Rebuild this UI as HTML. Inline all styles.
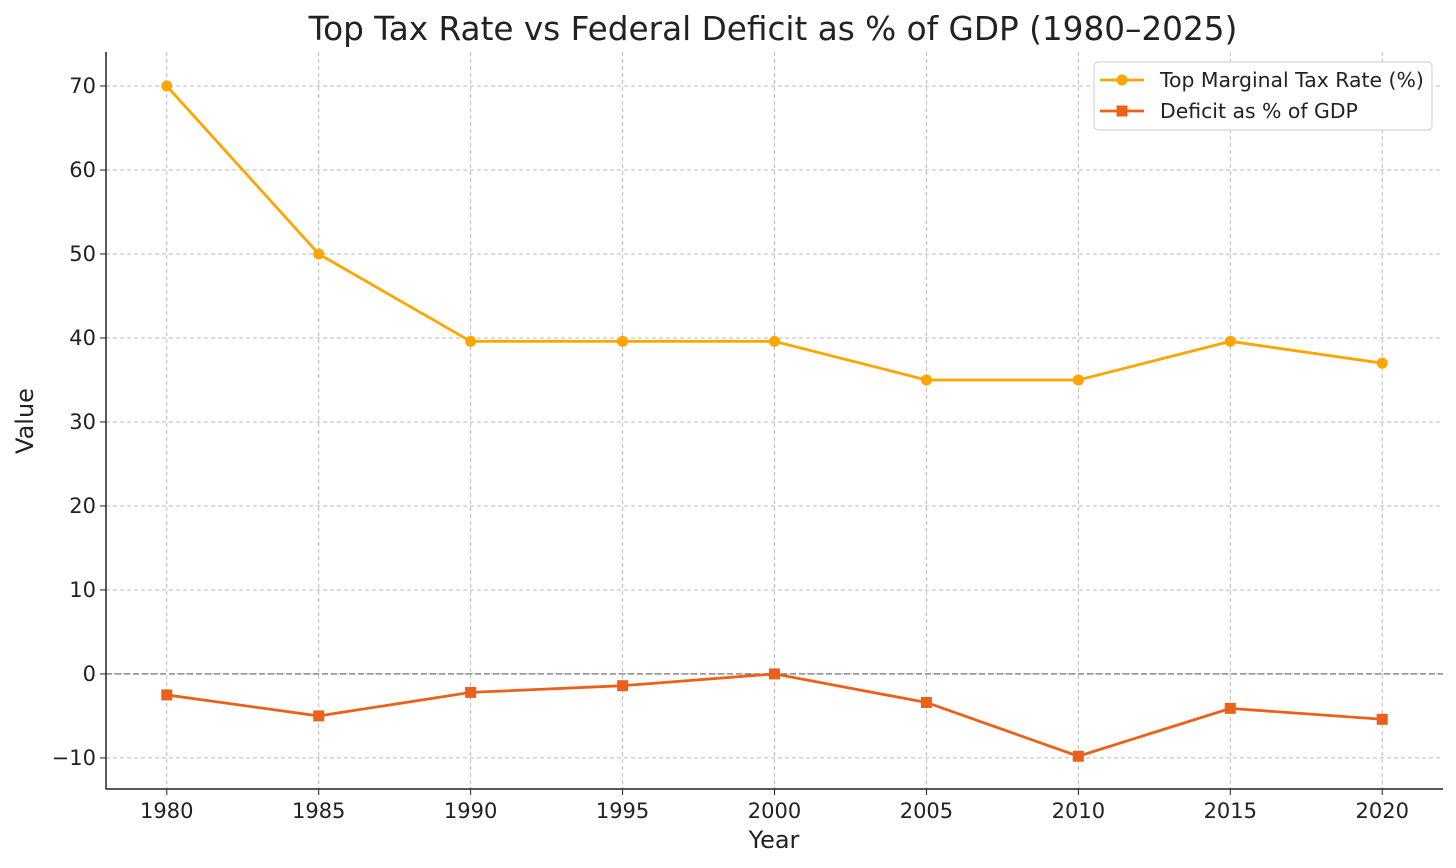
<!DOCTYPE html>
<html><head><meta charset="utf-8"><style>
body{margin:0;background:#fff;}
svg{display:block;font-family:"DejaVu Sans","Liberation Sans",sans-serif;}
</style></head><body>
<svg id="chart" width="1456" height="868">
<text x="773" y="40" text-anchor="middle" font-size="32.7" fill="#222">Top Tax Rate vs Federal Deficit as % of GDP (1980–2025)</text>
<g id="grid"></g>
<g id="axes"></g>
<g id="series"></g>
<text x="774" y="848" text-anchor="middle" font-size="24" fill="#222">Year</text>
<text x="33" y="421" text-anchor="middle" font-size="24" fill="#222" transform="rotate(-90 33 421)">Value</text>
<g>
<rect x="1094" y="62" width="338" height="68" rx="4" fill="#fff" stroke="#ccc"/>
<g>
<line x1="1100" y1="80" x2="1144" y2="80" stroke="#FFA500" stroke-width="2.8"/>
<circle cx="1122" cy="80" r="5.5" fill="#FFA500"/>
<text x="1160" y="87" font-size="20.4" fill="#222">Top Marginal Tax Rate (%)</text></g>
<g>
<line x1="1100" y1="111" x2="1144" y2="111" stroke="#EC6119" stroke-width="2.8"/>
<rect x="1116.5" y="105.5" width="11" height="11" fill="#EC6119"/>
<text x="1160" y="118" font-size="20.4" fill="#222">Deficit as % of GDP</text></g>
</g>
</svg>
<script>
const years=[1980,1985,1990,1995,2000,2005,2010,2015,2020];
const taxRate=[70,50,39.6,39.6,39.6,35,35,39.6,37];
const deficit=[-2.5,-5,-2.2,-1.4,0,-3.4,-9.8,-4.1,-5.4];
const yTicks=[-10,0,10,20,30,40,50,60,70];
const xTicks=[1980,1985,1990,1995,2000,2005,2010,2015,2020];
const L=106,R=1443,T=52,B=789;
const xMin=1978,xMax=2022,yMin=-13.7,yMax=74.05;
const X=v=>L+(v-xMin)/(xMax-xMin)*(R-L);
const Y=v=>B-(v-yMin)/(yMax-yMin)*(B-T);
const NS="http://www.w3.org/2000/svg";
function mk(tag,attrs,parent){const e=document.createElementNS(NS,tag);for(const k in attrs)e.setAttribute(k,attrs[k]);parent.appendChild(e);return e;}
const grid=document.getElementById('grid'),axes=document.getElementById('axes'),series=document.getElementById('series');
xTicks.forEach(t=>{
 const g=mk('line',{x1:X(t),x2:X(t),y1:T,y2:B,stroke:'#bbb','stroke-dasharray':'4,3','stroke-width':1},grid);
 
 
 mk('line',{x1:X(t),x2:X(t),y1:B,y2:B+6,stroke:'#222'},axes);
 const tx=mk('text',{x:X(t),y:B+29,'text-anchor':'middle','font-size':21,fill:'#222'},axes);
 tx.textContent=t;
 
 
});
yTicks.forEach(t=>{
 const g=mk('line',{x1:L,x2:R,y1:Y(t),y2:Y(t),stroke:'#bbb','stroke-dasharray':'4,3','stroke-width':1},grid);
 
 
 mk('line',{x1:L-6,x2:L,y1:Y(t),y2:Y(t),stroke:'#222'},axes);
 const tx=mk('text',{x:L-10,y:Y(t)+7,'text-anchor':'end','font-size':21,fill:'#222'},axes);
 tx.textContent=t<0?'\u2212'+Math.abs(t):t;
 
 
});
const zl=mk('line',{x1:L,x2:R,y1:Y(0),y2:Y(0),stroke:'#666','stroke-dasharray':'6,3','stroke-width':1.2},axes);


mk('line',{x1:L,x2:L,y1:T,y2:B,stroke:'#222','stroke-width':1.5},axes);
mk('line',{x1:L,x2:R,y1:B,y2:B,stroke:'#222','stroke-width':1.5},axes);
const p1=mk('polyline',{points:years.map((y,i)=>X(y)+','+Y(taxRate[i])).join(' '),fill:'none',stroke:'#FFA500','stroke-width':2.8},series);


years.forEach((y,i)=>{const c=mk('circle',{cx:X(y),cy:Y(taxRate[i]),r:5.5,fill:'#FFA500'},series);
 
 });
const p2=mk('polyline',{points:years.map((y,i)=>X(y)+','+Y(deficit[i])).join(' '),fill:'none',stroke:'#EC6119','stroke-width':2.8},series);


years.forEach((y,i)=>{const r=mk('rect',{x:X(y)-5.5,y:Y(deficit[i])-5.5,width:11,height:11,fill:'#EC6119'},series);
 
 });
</script>
</body></html>
